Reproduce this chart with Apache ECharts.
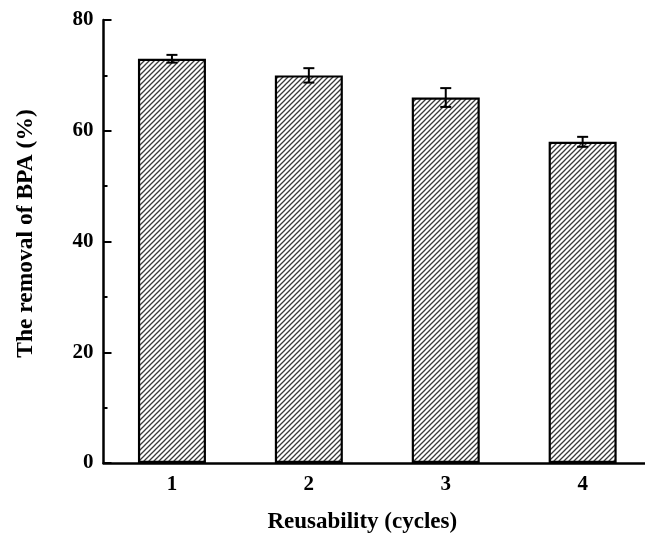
<!DOCTYPE html>
<html>
<head>
<meta charset="utf-8">
<script src="https://cdn.jsdelivr.net/npm/echarts@6/dist/echarts.min.js"></script>
<style>html,body{margin:0;padding:0;background:#fff;overflow:hidden}#c{width:660px;height:540px}</style>
</head>
<body>
<div id="c"></div>
<script>
var categories = ['1', '2', '3', '4'];
var removal = [73, 70, 66, 58];
var errors = [0.7, 1.3, 1.7, 0.9];
var yTicks = [0, 20, 40, 60, 80];

var tile = document.createElement('canvas');
tile.width = 5; tile.height = 5;
var g = tile.getContext('2d');
g.fillStyle = '#ffffff'; g.fillRect(0, 0, 5, 5);
g.strokeStyle = '#3a3a3a'; g.lineWidth = 1.3;
g.beginPath();
g.moveTo(-1, 6); g.lineTo(6, -1);
g.moveTo(-1, 1); g.lineTo(1, -1);
g.moveTo(4, 6); g.lineTo(6, 4);
g.stroke();

var font = '"Liberation Serif", "Times New Roman", serif';
var chart = echarts.init(document.getElementById('c'), null, {renderer: 'canvas'});
chart.setOption({
  animation: false,
  backgroundColor: '#ffffff',
  grid: {left: 103.5, top: 20, height: 443, width: 547.6, containLabel: false},
  xAxis: [{
    type: 'category',
    data: categories,
    z: 4,
    name: 'Reusability (cycles)',
    nameLocation: 'middle',
    nameGap: 48,
    nameTextStyle: {fontFamily: font, fontWeight: 'bold', fontSize: 23, color: '#000', padding: [0, 30, 0, 0]},
    axisLine: {lineStyle: {color: '#000', width: 2.5}},
    axisTick: {inside: true, alignWithLabel: true, length: 6, lineStyle: {color: '#000', width: 2}},
    axisLabel: {fontFamily: font, fontWeight: 'bold', fontSize: 21, color: '#000', margin: 11},
    splitLine: {show: false}
  }, {
    type: 'category',
    data: categories,
    position: 'bottom',
    z: 4,
    axisLine: {show: false},
    axisTick: {inside: true, length: 3, lineStyle: {color: '#000', width: 2}},
    axisLabel: {show: false},
    splitLine: {show: false}
  }],
  yAxis: {
    type: 'value',
    min: yTicks[0],
    max: yTicks[yTicks.length - 1],
    interval: 20,
    z: 4,
    name: 'The removal of BPA (%)',
    nameLocation: 'middle',
    nameGap: 66,
    nameTextStyle: {fontFamily: font, fontWeight: 'bold', fontSize: 23.5, color: '#000', padding: [0, 0, 0, 16]},
    axisLine: {show: true, lineStyle: {color: '#000', width: 2.5}},
    axisTick: {show: true, inside: true, length: 8, lineStyle: {color: '#000', width: 2}},
    minorTick: {show: true, splitNumber: 2, length: 4, lineStyle: {color: '#000', width: 2}},
    axisLabel: {fontFamily: font, fontWeight: 'bold', fontSize: 21, color: '#000', margin: 10},
    splitLine: {show: false}
  },
  series: [{
    type: 'bar',
    data: removal,
    barWidth: 68,
    itemStyle: {color: {image: tile, repeat: 'repeat'}, borderColor: '#000', borderWidth: 2.2}
  }, {
    type: 'custom',
    data: removal.map(function (v, i) { return [i, v, errors[i]]; }),
    z: 5,
    renderItem: function (params, api) {
      var x = api.value(0), v = api.value(1), e = api.value(2);
      var hi = api.coord([x, v + e]);
      var lo = api.coord([x, v - e]);
      var w = 5.5;
      var st = {stroke: '#000', lineWidth: 2};
      return {type: 'group', children: [
        {type: 'line', shape: {x1: hi[0], y1: hi[1], x2: lo[0], y2: lo[1]}, style: st},
        {type: 'line', shape: {x1: hi[0] - w, y1: hi[1], x2: hi[0] + w, y2: hi[1]}, style: st},
        {type: 'line', shape: {x1: lo[0] - w, y1: lo[1], x2: lo[0] + w, y2: lo[1]}, style: st}
      ]};
    }
  }]
});
</script>
</body>
</html>
